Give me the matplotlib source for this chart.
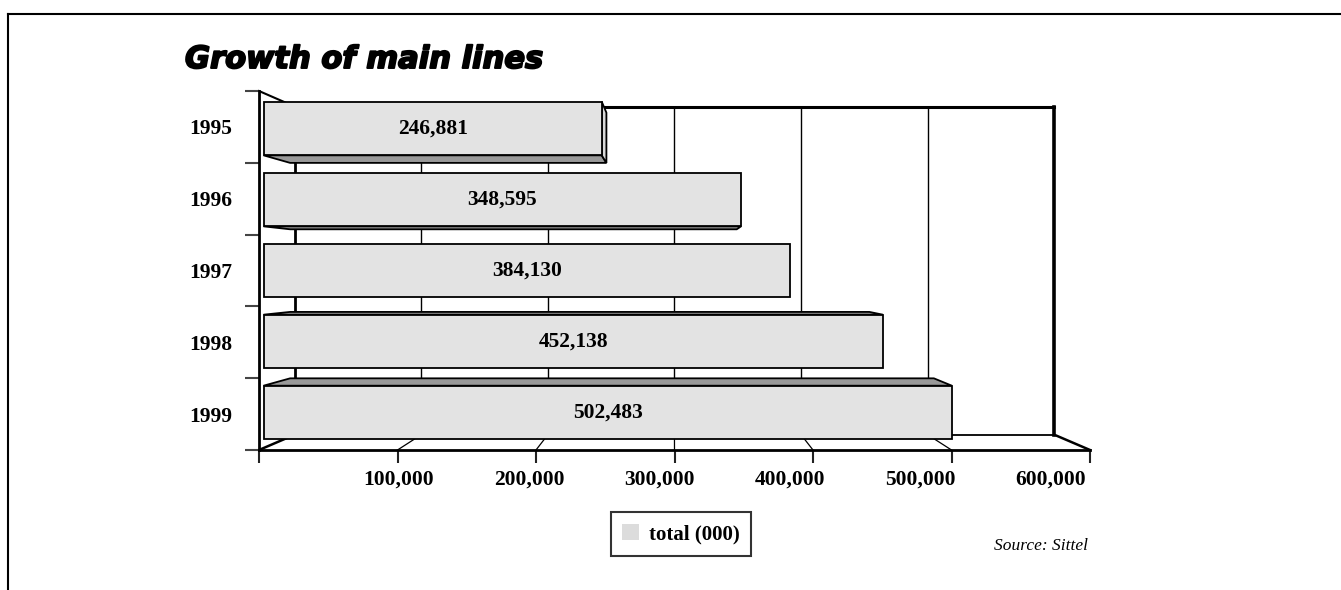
import matplotlib
matplotlib.use('Agg')
import matplotlib.pyplot as plt
from matplotlib.patches import Polygon, Patch
from matplotlib.lines import Line2D
import matplotlib.patheffects as pe

# ---------------- data ----------------
years = ['1995', '1996', '1997', '1998', '1999']
totals = [246881, 348595, 384130, 452138, 502483]
bar_labels = ['246,881', '348,595', '384,130', '452,138', '502,483']
x_ticks = [0, 100000, 200000, 300000, 400000, 500000, 600000]
x_tick_labels = ['100,000', '200,000', '300,000', '400,000', '500,000', '600,000']
title = 'Growth of main lines'
legend_label = 'total (000)'
source = 'Source: Sittel'

# ---------------- layout ----------------
W, H = 1341, 590
fig = plt.figure(figsize=(W / 100, H / 100), dpi=100)
fig.patch.set_facecolor('white')

ax = fig.add_axes([259 / W, 1 - 450 / H, 831 / W, 359 / H])
XMAX = x_ticks[-1]
NROW = len(years)
ax.set_xlim(0, XMAX)
ax.set_ylim(NROW, 0)
ax.patch.set_visible(False)

SERIF = 'Liberation Serif'

# perspective (vanishing point in data coords, depth scales)
VX = 0.4994 * XMAX
VY = 0.504 * NROW
S_BACK = 0.914
S_BAR_F = 0.989
S_BAR_B = 0.925
HALF = 0.378


def proj(v, y, s):
    return (VX + s * (v - VX), VY + s * (y - VY))


def seg(p, q, lw=1.0, color='black', z=1):
    ax.add_line(Line2D([p[0], q[0]], [p[1], q[1]], lw=lw, color=color,
                       zorder=z, clip_on=False, solid_capstyle='projecting'))


# back wall
seg(proj(0, 0, S_BACK), proj(XMAX, 0, S_BACK), lw=2.2)
seg(proj(XMAX, 0, S_BACK), proj(XMAX, NROW, S_BACK), lw=2.6)
seg(proj(0, 0, S_BACK), proj(0, NROW, S_BACK), lw=2.0)
seg(proj(0, NROW, S_BACK), proj(XMAX, NROW, S_BACK), lw=1.3)
for v in x_ticks[1:-1]:
    seg(proj(v, 0, S_BACK), proj(v, NROW, S_BACK), lw=1.0)

# floor
for v in x_ticks:
    lw = 1.8 if v in (0, XMAX) else 0.9
    seg(proj(v, NROW, 1.0), proj(v, NROW, S_BACK), lw=lw)

# left wall top edge
seg(proj(0, 0, 1.0), proj(0, 0, S_BACK), lw=1.5)

# bars
FRONT_C = '#e3e3e3'
SHADE_C = '#999999'
SIDE_C = '#d8d8d8'
for i, v in enumerate(totals):
    y0 = i + 0.5 - HALF
    y1 = i + 0.5 + HALF
    faces = []
    if VY < y0:
        faces.append(([proj(0, y0, S_BAR_F), proj(v, y0, S_BAR_F),
                       proj(v, y0, S_BAR_B), proj(0, y0, S_BAR_B)], SHADE_C))
    if VY > y1:
        faces.append(([proj(0, y1, S_BAR_F), proj(v, y1, S_BAR_F),
                       proj(v, y1, S_BAR_B), proj(0, y1, S_BAR_B)], SHADE_C))
    if VX > v:
        faces.append(([proj(v, y0, S_BAR_F), proj(v, y1, S_BAR_F),
                       proj(v, y1, S_BAR_B), proj(v, y0, S_BAR_B)], SIDE_C))
    faces.append(([proj(0, y0, S_BAR_F), proj(v, y0, S_BAR_F),
                   proj(v, y1, S_BAR_F), proj(0, y1, S_BAR_F)], FRONT_C))
    for pts, col in faces:
        ax.add_patch(Polygon(pts, closed=True, facecolor=col, edgecolor='black',
                             lw=1.3, joinstyle='miter', zorder=3, clip_on=False))
    cx, cy = proj(v / 2, i + 0.5, S_BAR_F)
    ax.text(cx, cy, bar_labels[i], ha='center', va='center', fontsize=15.5,
            fontweight='bold', family=SERIF, zorder=5)

# axes, spines, ticks
for side in ('top', 'right'):
    ax.spines[side].set_visible(False)
for side in ('left', 'bottom'):
    ax.spines[side].set_linewidth(2.0)
    ax.spines[side].set_color('black')

ax.set_xticks(x_ticks, [''] * len(x_ticks))
ax.set_yticks(range(NROW + 1), [''] * (NROW + 1))
ax.tick_params(axis='x', which='major', direction='out', length=9.4,
               width=1.5, color='#222222')
ax.tick_params(axis='y', which='major', direction='out', length=10,
               width=1.5, color='#444444')

label_pos = [6855 + 0.9417 * v for v in x_ticks[1:]]
ax.set_xticks(label_pos, x_tick_labels, minor=True)
ax.set_yticks([i + 0.5 for i in range(NROW)], years, minor=True)
ax.tick_params(axis='x', which='minor', length=0, pad=14)
ax.tick_params(axis='y', which='minor', length=0, pad=19.4)
for lab in ax.get_xticklabels(minor=True) + ax.get_yticklabels(minor=True):
    lab.set_fontfamily(SERIF)
    lab.set_fontweight('bold')
    lab.set_fontsize(15.5)

# title
fig.text(185 / W, 1 - 68 / H, title, fontsize=22, fontweight='bold',
         fontstyle='oblique', family='DejaVu Sans', va='baseline', ha='left',
         path_effects=[pe.withStroke(linewidth=1.4, foreground='black')])

# legend
leg = fig.legend(handles=[Patch(facecolor='#dcdcdc', edgecolor='none',
                                label=legend_label)],
                 loc='center', bbox_to_anchor=(681 / W, 1 - 534 / H),
                 frameon=True, fancybox=False, edgecolor='black',
                 prop={'family': SERIF, 'weight': 'bold', 'size': 15},
                 handlelength=0.8, handleheight=0.8, borderpad=0.55,
                 handletextpad=0.5, borderaxespad=0)
leg.get_frame().set_linewidth(1.5)

# source
fig.text(1088 / W, 1 - 550 / H, source, fontsize=12.5, fontstyle='italic',
         family=SERIF, ha='right', va='baseline')

# outer frame
fig.add_artist(Line2D([8.3 / W, 1.0], [1 - 14.3 / H, 1 - 14.3 / H],
                      transform=fig.transFigure, color='black', lw=1.5))
fig.add_artist(Line2D([8.3 / W, 8.3 / W], [0.0, 1 - 14.3 / H],
                      transform=fig.transFigure, color='black', lw=1.5))

fig.savefig('out.png', dpi=100, facecolor='white')
